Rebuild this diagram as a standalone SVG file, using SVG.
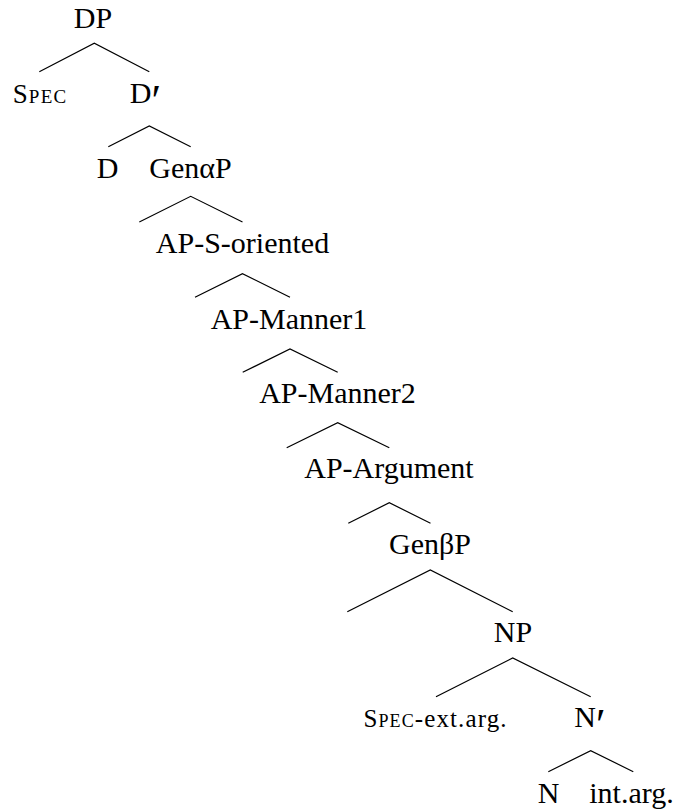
<svg xmlns="http://www.w3.org/2000/svg" width="678" height="810" viewBox="0 0 678 810" font-family="'Liberation Serif', 'DejaVu Serif', serif">
  <style>
    text { font-family: "Liberation Serif", "DejaVu Serif", serif; font-size: 30px; fill: #000; text-anchor: middle; }
    .sc { font-variant: small-caps; font-size: 27px; letter-spacing: 1.2px; }
    .small { font-size: 25px; }
    .prime { text-anchor: start; }
    .edge { fill: none; stroke: #000; stroke-width: 1.2; stroke-linejoin: miter; }
  </style>
  <rect width="678" height="810" fill="#fff"/>

  <!-- branches: each polyline runs left daughter, mother, right daughter -->
  <g id="connectors">
    <polyline class="edge" points="39.3,71.7 94.3,43.3 149.3,71.7"/>
    <polyline class="edge" points="108.3,146.7 149.3,126 190.7,146.7"/>
    <polyline class="edge" points="139.3,222 190.7,196.3 242.5,222"/>
    <polyline class="edge" points="195,297.3 242.5,273.7 290,297.3"/>
    <polyline class="edge" points="242.7,372.3 290,349 337.7,372.3"/>
    <polyline class="edge" points="286.7,447.7 337.7,422.7 389.3,447.7"/>
    <polyline class="edge" points="348.3,523.3 389.3,502.7 430.5,523.3"/>
    <polyline class="edge" points="347.3,611.7 430.3,570 512.7,611.7"/>
    <polyline class="edge" points="436,696.7 512.7,658 590.7,696.7"/>
    <polyline class="edge" points="548.3,771.7 590.7,750.7 633.3,771.7"/>
  </g>

  <g id="DP"><text x="93" y="28">DP</text></g>
  <g id="Spec"><text class="sc" x="40" y="103">Spec</text></g>
  <g id="Dbar"><text x="145.5" y="103">D<tspan class="prime" font-size="44" dy="12">′</tspan></text></g>
  <g id="D"><text x="107.5" y="178.3">D</text></g>
  <g id="GenAlphaP"><text x="190.5" y="178.3">GenαP</text></g>
  <g id="AP-S-oriented"><text x="242.5" y="253.3">AP-S-oriented</text></g>
  <g id="AP-Manner1"><text x="289" y="329.3">AP-Manner1</text></g>
  <g id="AP-Manner2"><text x="337.5" y="403.3">AP-Manner2</text></g>
  <g id="AP-Argument"><text x="389" y="478.3">AP-Argument</text></g>
  <g id="GenBetaP"><text x="430" y="553.5">GenβP</text></g>
  <g id="NP"><text x="513" y="641.7">NP</text></g>
  <g id="Spec-ext-arg"><text class="small" x="435" y="727" textLength="143" lengthAdjust="spacing"><tspan font-variant="small-caps">Spec</tspan>-ext.arg.</text></g>
  <g id="Nbar"><text x="590" y="727">N<tspan class="prime" font-size="44" dy="12">′</tspan></text></g>
  <g id="N"><text x="548.5" y="803">N</text></g>
  <g id="int-arg"><text x="631.5" y="803">int.arg.</text></g>
</svg>
